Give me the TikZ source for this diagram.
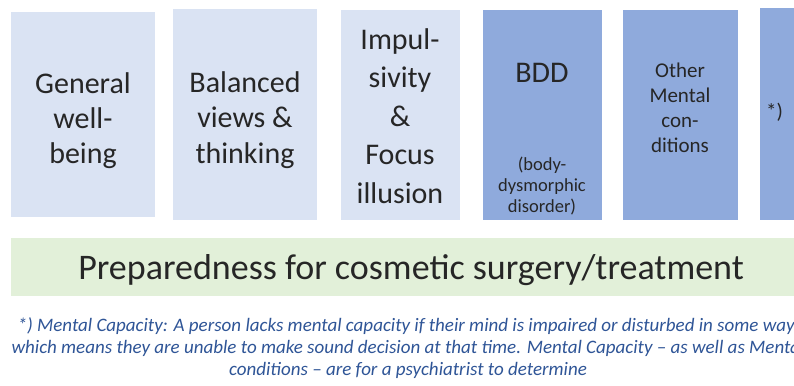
\documentclass[tikz,border=0pt]{standalone}
\usepackage{fontspec}
\setmainfont{Carlito}
\definecolor{paleblue}{HTML}{DAE3F3}
\definecolor{midblue}{HTML}{8FAADC}
\definecolor{palegreen}{HTML}{E2F0D9}
\definecolor{notetext}{HTML}{2F5597}
\definecolor{boxtext}{HTML}{262626}
\begin{document}
\begin{tikzpicture}[x=1pt,y=-1pt,
  panel/.style={draw=none,anchor=north west,inner sep=0pt,outer sep=0pt},
  lightpanel/.style={panel,fill=paleblue},
  darkpanel/.style={panel,fill=midblue},
  % multi-line labels are placed by the baseline of their last line
  bigtext/.style={anchor=base,align=center,inner sep=0pt,text=boxtext,
    font=\fontsize{30}{36.5}\selectfont},
  midtext/.style={anchor=base,align=center,inner sep=0pt,text=boxtext,
    font=\fontsize{21}{25}\selectfont},
  smalltext/.style={anchor=base,align=center,inner sep=0pt,text=boxtext,
    font=\fontsize{18.5}{21}\selectfont},
  notetxt/.style={anchor=base,align=center,inner sep=0pt,text=notetext,
    font=\fontsize{19}{22}\selectfont\itshape}]
\useasboundingbox (0,0) rectangle (794,385);
\clip (0,0) rectangle (794,385);
\fill[white] (0,0) rectangle (794,385);

% top row of factor panels
\node[lightpanel,minimum width=144pt,minimum height=205pt] (p1) at (11,12) {};
\node[lightpanel,minimum width=144pt,minimum height=211pt] (p2) at (173,9) {};
\node[lightpanel,minimum width=119pt,minimum height=210pt] (p3) at (341,10) {};
\node[darkpanel,minimum width=119pt,minimum height=210pt] (p4) at (483,10) {};
\node[darkpanel,minimum width=115pt,minimum height=210pt] (p5) at (623,10) {};
\node[darkpanel,minimum width=60pt,minimum height=212pt] (p6) at (760,8) {};

% panel labels
\node[bigtext,font=\fontsize{30}{35}\selectfont] (t1) at (83,163) {General\\well-\\being};
\node[bigtext,font=\fontsize{30}{35.5}\selectfont] (t2) at (245,163) {Balanced\\views \&\\thinking};
\node[bigtext,font=\fontsize{30}{38.5}\selectfont] (t3) at (400,203) {Impul-\\sivity\\\&\\Focus\\illusion};
\node[bigtext] (t4) at (542,83) {BDD};
\node[smalltext] (t4b) at (542,212) {(body-\\dysmorphic\\disorder)};
\node[midtext] (t5) at (680,152) {Other\\Mental\\con-\\ditions};
\node[midtext,anchor=base west] (t6) at (766,118) {*)};

% base bar
\node[panel,fill=palegreen,minimum width=800pt,minimum height=58pt] (bar) at (11,238) {};
\node[anchor=base,inner sep=0pt,text=boxtext,font=\fontsize{36}{42}\selectfont]
  (bartext) at (411,279) {Preparedness for cosmetic surgery/treatment};

% footnote
\node[notetxt] (note) at (408,375) {*) Mental Capacity: A person lacks mental capacity if their mind is impaired or disturbed in some way,\\
which means they are unable to make sound decision at that time. Mental Capacity -- as well as Mental\\
conditions -- are for a psychiatrist to determine};
\end{tikzpicture}
\end{document}
